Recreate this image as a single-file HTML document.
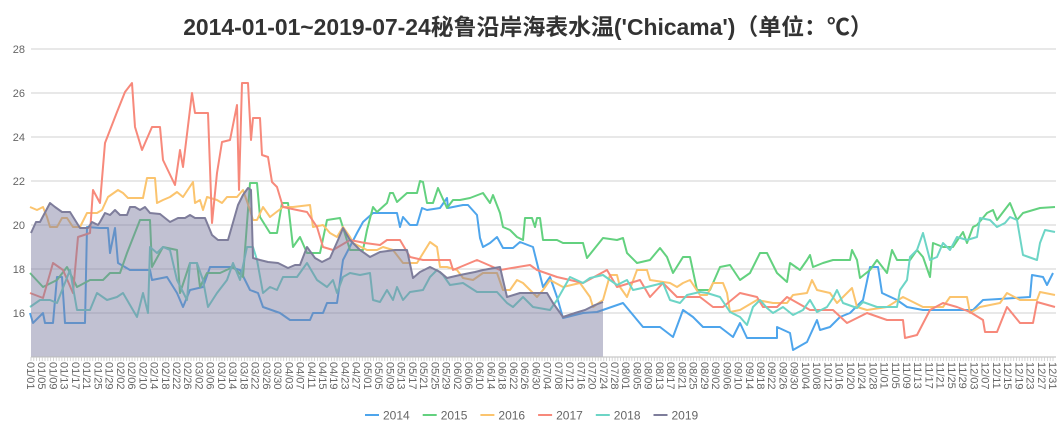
<!DOCTYPE html>
<html><head><meta charset="utf-8"><style>
html,body{margin:0;padding:0;background:#fff;}
svg{display:block;font-family:"Liberation Sans","Noto Sans CJK SC",sans-serif;}
</style></head><body>
<svg id="c" width="1064" height="441" xmlns="http://www.w3.org/2000/svg">
<text x="528" y="35" text-anchor="middle" font-size="22.9" font-weight="bold" fill="#333">2014-01-01~2019-07-24秘鲁沿岸海表水温('Chicama')（单位：℃）</text>
<g id="grid"></g>
<g id="series"></g>
<g id="axis"></g>
<g id="legend" font-size="12" fill="#666"></g>
</svg>
<script>
var NS="http://www.w3.org/2000/svg";
function el(p,t,a,txt){var e=document.createElementNS(NS,t);for(var k in a)e.setAttribute(k,a[k]);if(txt!==undefined)e.textContent=txt;p.appendChild(e);return e;}
var g=document.getElementById('grid'),s=document.getElementById('series'),ax=document.getElementById('axis'),lg=document.getElementById('legend');
var X0=31,X1=1053,YB=357;
for(var v=16;v<=28;v+=2){var y=49+(28-v)*22;el(g,'line',{x1:X0,x2:1056,y1:y,y2:y,stroke:'#d0d0d0','stroke-width':1});el(g,'text',{x:25,y:y+4,'text-anchor':'end','font-size':11,fill:'#666'},String(v));}
function P(a){var r=[];for(var i=0;i<a.length;i+=2)r.push(a[i]+','+a[i+1]);return r.join(' ');}
var C={b:'#4ea5ec',g:'#63d17f',y:'#fbc46e',r:'#f7897b',t:'#6dd5c6',p:'#7e7d9b'};
var d14=[30,313,33,323,43,313,45,323,53,323,57,277,62,277,65,323,85,323,87,227,100,228,108,228,110,253,115,228,118,263,130,270,150,270,152,280,167,277,177,293,183,307,190,290,203,287,210,267,230,267,240,270,250,290,258,293,263,307,280,313,290,320,310,320,313,313,323,313,327,303,337,303,343,260,357,233,363,222,373,213,383,213,397,213,400,227,403,217,410,225,417,225,422,208,427,210,440,208,447,198,448,208,463,205,468,205,477,215,480,238,483,247,490,243,497,237,503,248,513,248,520,242,533,247,543,287,550,277,557,297,563,318,583,313,597,312,623,303,643,327,660,327,673,337,683,310,693,317,703,327,720,327,733,337,740,323,747,338,777,338,777,327,790,333,793,350,807,342,817,320,820,330,830,327,840,317,850,313,863,300,870,267,878,267,882,293,897,300,907,307,923,310,973,310,983,300,1030,297,1032,275,1043,277,1047,285,1053,273];
var d15=[30,273,43,287,57,280,67,267,77,287,90,280,103,280,110,273,120,273,127,253,140,220,150,220,152,267,163,247,177,250,180,293,190,263,197,263,200,287,207,273,220,273,233,267,243,277,250,183,257,183,260,217,270,233,277,233,282,203,288,203,293,247,300,237,307,253,320,253,327,220,340,218,350,250,363,250,367,230,373,207,377,212,387,203,390,193,393,193,397,202,407,193,417,193,420,181,423,182,427,203,433,203,438,188,447,208,453,200,460,200,470,198,483,193,490,203,493,195,500,213,503,227,510,230,517,237,523,240,525,218,532,218,535,227,537,218,540,218,543,240,557,240,563,243,583,243,587,258,603,238,617,240,623,238,627,253,637,263,650,260,660,248,667,257,673,273,683,257,690,257,697,290,710,290,720,267,730,265,740,280,750,273,760,253,767,253,777,273,787,282,790,263,800,270,807,260,810,255,813,267,823,263,833,260,850,260,852,250,857,260,860,278,870,270,877,260,887,273,892,250,897,260,910,260,917,250,923,257,930,277,933,243,943,247,953,247,963,232,967,243,973,227,977,225,987,213,993,210,997,220,1010,203,1017,220,1023,213,1040,208,1055,207];
var d16=[30,207,37,210,43,207,47,217,50,227,57,227,62,218,67,218,73,227,80,227,87,213,97,213,102,210,108,197,118,190,123,193,128,198,143,198,147,178,155,178,157,203,163,200,170,197,177,192,183,197,193,182,195,203,200,200,203,210,207,197,217,200,222,203,227,197,237,197,243,190,250,210,253,220,257,220,263,207,270,217,283,207,293,207,310,205,313,227,323,225,330,233,337,237,343,227,350,237,353,243,367,250,377,250,383,247,393,250,403,263,417,263,430,242,437,247,440,267,447,267,457,270,463,278,473,280,483,273,497,273,503,290,510,290,517,280,523,283,537,297,543,290,550,280,563,287,580,283,590,297,593,307,603,300,610,275,617,275,620,287,627,297,637,270,647,270,650,280,670,283,677,287,683,283,690,280,700,295,707,295,713,283,723,283,727,293,730,312,740,310,757,300,773,303,787,303,793,295,807,293,812,280,817,290,830,293,837,303,847,293,852,288,857,307,867,310,887,307,903,297,923,307,943,307,950,297,967,297,970,313,980,307,1000,303,1007,293,1020,300,1037,300,1040,292,1055,295];
var d17=[30,293,43,298,53,263,63,270,73,293,78,237,90,233,93,190,100,203,105,143,117,112,125,92,132,83,135,127,142,150,152,127,160,127,163,160,175,185,180,150,183,167,192,93,195,113,208,113,212,223,217,173,222,142,230,140,237,105,239,190,242,83,248,83,251,140,253,118,260,118,262,155,268,157,272,182,277,187,283,207,297,210,307,212,317,227,323,247,333,250,350,240,365,243,380,245,387,240,400,240,410,257,423,260,450,260,453,270,477,260,500,270,530,265,537,270,557,277,583,283,607,270,617,287,640,280,650,297,663,283,677,297,700,297,713,307,723,307,740,293,757,297,763,307,777,307,787,297,810,310,833,310,847,323,867,313,887,320,903,320,905,338,917,335,930,310,943,303,957,307,970,312,983,320,985,332,997,332,1007,307,1020,323,1033,323,1037,302,1055,307];
var d18=[30,307,40,300,50,300,57,303,70,270,77,310,90,310,97,293,107,300,117,297,123,293,137,317,143,293,148,313,150,247,157,253,163,247,170,250,177,280,187,300,190,263,197,263,203,280,208,307,217,293,227,280,233,263,240,280,247,247,253,247,257,260,263,293,270,287,277,290,283,277,297,277,307,263,317,280,327,287,333,280,337,293,343,277,350,273,360,275,370,273,373,300,380,302,387,290,393,300,397,287,403,300,410,292,423,290,430,277,437,270,443,275,450,285,463,283,477,292,497,292,507,303,513,307,523,297,533,307,550,310,557,300,570,277,583,283,590,278,603,275,617,285,627,280,633,290,647,287,663,283,670,300,680,303,687,295,700,292,707,293,720,297,730,312,740,317,747,325,753,307,760,300,767,308,773,313,783,307,793,315,803,310,810,300,817,312,827,307,833,298,837,290,843,303,857,308,863,302,877,307,897,307,900,290,907,280,910,257,917,250,923,233,930,260,937,257,943,243,950,250,957,237,967,240,977,237,980,218,990,220,997,227,1005,223,1010,217,1017,220,1023,255,1037,260,1040,243,1045,230,1055,232];
var d19=[31,233,36,222,40,222,50,203,55,207,62,212,70,212,75,220,80,228,88,228,92,222,98,225,100,222,105,213,110,215,115,210,120,215,127,215,130,207,135,207,140,210,145,207,150,213,160,214,165,218,170,222,178,218,185,218,190,215,195,218,205,218,212,235,218,240,228,240,238,205,243,195,248,188,251,190,253,258,260,260,268,262,278,263,288,268,295,265,300,265,307,247,315,258,322,262,330,258,338,240,343,228,350,240,360,250,370,257,380,252,395,250,407,250,413,278,420,272,430,267,440,272,447,278,460,275,475,272,483,270,500,267,507,297,520,293,530,293,547,293,553,303,563,317,575,313,585,310,595,305,603,302];
function line(d,c){el(s,'polyline',{points:P(d),fill:'none',stroke:c,'stroke-width':2,'stroke-linejoin':'round'});}
line(d14,C.b);line(d15,C.g);line(d16,C.y);line(d17,C.r);line(d18,C.t);
var fp=P(d19)+' 603,'+YB+' 31,'+YB;
el(s,'polygon',{points:fp,fill:'rgba(125,125,160,0.48)',stroke:'none'});
line(d19,C.p);
el(ax,'line',{x1:X0,x2:1056,y1:YB,y2:YB,stroke:'#bbb','stroke-width':1});
var st=(X1-X0)/364;
for(var i=0;i<=364;i++){var x=X0+i*st;el(ax,'line',{x1:x,x2:x,y1:YB,y2:YB+4,stroke:'#ccc','stroke-width':0.8});}
var md=[31,28,31,30,31,30,31,31,30,31,30,31];
var doy=0;
for(var m=0;m<12;m++)for(var dd=1;dd<=md[m];dd++){if(doy%4==0){var x=X0+doy*st-4;var lab=(m<9?'0':'')+(m+1)+'/'+(dd<10?'0':'')+dd;el(ax,'text',{x:x,y:362,transform:'rotate(90 '+x+' 362)','font-size':11,fill:'#666'},lab);}doy++;}
var names=['2014','2015','2016','2017','2018','2019'],cols=[C.b,C.g,C.y,C.r,C.t,C.p];
for(var k=0;k<6;k++){var lx=365+k*57.7;el(lg,'line',{x1:lx,x2:lx+14,y1:415,y2:415,stroke:cols[k],'stroke-width':2});el(lg,'text',{x:lx+18,y:419.5},names[k]);}
</script>
</body></html>
